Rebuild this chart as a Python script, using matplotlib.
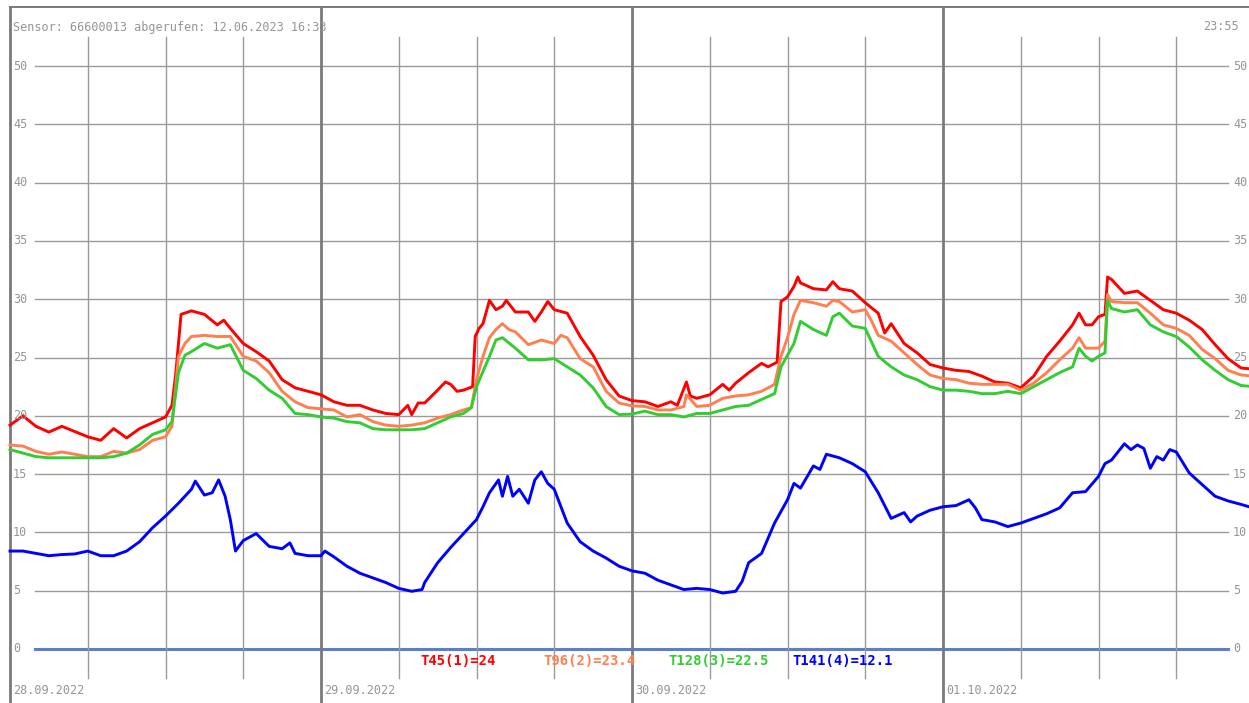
import matplotlib
matplotlib.use("Agg")
import matplotlib.pyplot as plt

# hours since 28.09.2022 00:00 and temperatures in degC
red_h = [0, 1, 2, 3, 4, 5, 6, 7, 8, 9, 10, 11, 12, 12.5, 12.8, 13.2, 14, 15, 16, 16.5, 17, 18, 19, 20, 21, 22, 23,
         24, 25, 26, 27, 28, 29, 30, 30.7, 31, 31.5, 32, 33, 33.6, 34, 34.5, 35, 35.7, 35.9, 36.2, 36.5, 37, 37.5,
         38, 38.3, 39, 40, 40.5, 41, 41.5, 42, 43, 44, 45, 46, 47,
         48, 49, 50, 51, 51.5, 52.2, 52.5, 53, 54, 55, 55.5, 56, 57, 58, 58.5, 59.2, 59.5, 60, 60.5, 60.8, 61, 62,
         63, 63.5, 64, 65, 66, 67, 67.5, 68, 69, 70, 71,
         72, 73, 74, 75, 76, 77, 78, 79, 80, 81, 82, 82.5, 83, 83.5, 84, 84.5, 84.7, 85, 86, 87, 88, 89, 90, 91,
         92, 93, 94, 95, 95.92]
red_t = [19.2, 20.0, 19.1, 18.6, 19.1, 18.65, 18.2, 17.9, 18.9, 18.1, 18.9, 19.4, 19.9, 20.9, 23.7, 28.7, 29.0,
         28.7, 27.8, 28.2, 27.5, 26.2, 25.5, 24.7, 23.1, 22.4, 22.1,
         21.8, 21.2, 20.9, 20.9, 20.5, 20.2, 20.1, 20.9, 20.1, 21.1, 21.1, 22.2, 22.9, 22.7, 22.1, 22.2, 22.5, 26.8,
         27.5, 27.9, 29.9, 29.1, 29.4, 29.9, 28.9, 28.9, 28.1, 28.9, 29.8, 29.1, 28.8, 26.8, 25.2, 23.1, 21.7,
         21.3, 21.2, 20.8, 21.2, 20.9, 22.9, 21.7, 21.5, 21.8, 22.7, 22.2, 22.8, 23.7, 24.5, 24.2, 24.6, 29.8, 30.2,
         31.1, 31.9, 31.4, 30.9, 30.8, 31.5, 30.9, 30.7, 29.7, 28.8, 27.1, 27.9, 26.2, 25.4, 24.4,
         24.1, 23.9, 23.8, 23.4, 22.9, 22.8, 22.4, 23.4, 25.1, 26.4, 27.8, 28.8, 27.8, 27.8, 28.5, 28.7, 31.9,
         31.7, 30.5, 30.7, 29.9, 29.1, 28.8, 28.2, 27.4, 26.1, 24.9, 24.1, 24.0]

coral_h = [0, 1, 2, 3, 4, 5, 6, 7, 8, 9, 10, 11, 12, 12.5, 13, 13.5, 14, 15, 16, 17, 18, 19, 20, 21, 22, 23,
           24, 25, 26, 27, 28, 29, 30, 31, 32, 33, 34, 35, 35.6, 36, 36.5, 37, 37.5, 38, 38.5, 39, 40, 41, 42,
           42.5, 43, 44, 45, 46, 47,
           48, 49, 50, 51, 52, 52.2, 53, 54, 55, 56, 57, 58, 59, 59.5, 60, 60.5, 61, 62, 63, 63.5, 64, 65, 66,
           66.5, 67, 68, 69, 70, 71,
           72, 73, 74, 75, 76, 77, 78, 79, 80, 81, 82, 82.5, 83, 84, 84.5, 84.7, 85, 86, 87, 88, 89, 90, 91, 92,
           93, 94, 95, 95.92]
coral_t = [17.5, 17.4, 16.95, 16.7, 16.9, 16.7, 16.5, 16.5, 16.95, 16.8, 17.1, 17.9, 18.2, 19.1, 25.1, 26.2,
           26.8, 26.9, 26.8, 26.8, 25.1, 24.7, 23.7, 22.1, 21.2, 20.7,
           20.6, 20.5, 19.9, 20.1, 19.5, 19.2, 19.1, 19.2, 19.4, 19.8, 20.1, 20.5, 20.7, 23.1, 25.1, 26.7, 27.4,
           27.9, 27.4, 27.2, 26.1, 26.5, 26.2, 26.9, 26.7, 24.9, 24.2, 22.1, 21.1,
           20.85, 20.8, 20.5, 20.5, 20.8, 21.8, 20.8, 20.9, 21.5, 21.7, 21.8, 22.1, 22.7, 25.1, 26.7, 28.7, 29.9,
           29.7, 29.4, 29.9, 29.8, 28.9, 29.1, 28.1, 26.9, 26.4, 25.4, 24.4, 23.5,
           23.2, 23.1, 22.8, 22.7, 22.7, 22.7, 22.2, 22.8, 23.7, 24.8, 25.8, 26.7, 25.8, 25.8, 26.4, 30.4, 29.8,
           29.7, 29.7, 28.8, 27.8, 27.5, 26.9, 25.7, 24.9, 23.9, 23.5, 23.4]

green_h = [0, 1, 2, 3, 4, 5, 6, 7, 8, 9, 10, 11, 12, 12.5, 13, 13.5, 14, 15, 16, 17, 18, 19, 20, 21, 22, 23,
           24, 25, 26, 27, 28, 29, 30, 31, 32, 33, 34, 35, 35.6, 36, 36.5, 37, 37.5, 38, 39, 40, 41, 42, 43, 44,
           45, 46, 47,
           48, 49, 50, 51, 52, 53, 54, 55, 56, 57, 58, 59, 59.5, 60, 60.5, 61, 62, 63, 63.5, 64, 65, 66, 67, 68,
           69, 70, 71,
           72, 73, 74, 75, 76, 77, 78, 79, 80, 81, 82, 82.5, 83, 83.5, 84, 84.5, 84.7, 85, 86, 87, 88, 89, 90, 91,
           92, 93, 94, 95, 95.92]
green_t = [17.1, 16.8, 16.5, 16.4, 16.4, 16.4, 16.4, 16.4, 16.5, 16.8, 17.5, 18.4, 18.8, 19.5, 23.7, 25.2, 25.5,
           26.2, 25.8, 26.1, 23.9, 23.2, 22.2, 21.5, 20.2, 20.1,
           19.9, 19.8, 19.5, 19.4, 18.9, 18.8, 18.8, 18.8, 18.9, 19.4, 19.9, 20.2, 20.7, 22.5, 23.8, 25.1, 26.5,
           26.7, 25.8, 24.8, 24.8, 24.9, 24.2, 23.5, 22.4, 20.8, 20.1,
           20.15, 20.4, 20.1, 20.1, 19.9, 20.2, 20.2, 20.5, 20.8, 20.9, 21.4, 21.9, 24.2, 25.2, 26.2, 28.1, 27.4,
           26.9, 28.5, 28.8, 27.7, 27.5, 25.1, 24.2, 23.5, 23.1, 22.5,
           22.2, 22.2, 22.1, 21.9, 21.9, 22.1, 21.9, 22.5, 23.1, 23.7, 24.2, 25.8, 25.1, 24.7, 25.1, 25.4, 29.9,
           29.2, 28.9, 29.1, 27.8, 27.2, 26.8, 25.9, 24.8, 23.9, 23.1, 22.6, 22.5]

blue_h = [0, 1, 2, 3, 4, 5, 6, 7, 8, 9, 10, 11, 12, 13, 14, 14.3, 15, 15.6, 16.1, 16.6, 17, 17.4, 18, 19, 20, 21,
          21.6, 22, 23,
          24, 24.3, 25, 26, 27, 28, 29, 30, 31, 31.8, 32, 33, 34, 35, 36, 36.5, 37, 37.7, 38, 38.4, 38.8, 39.3,
          40, 40.5, 41, 41.5, 42, 43, 44, 45, 46, 47,
          48, 49, 50, 51, 52, 53, 54, 55, 56, 56.5, 57, 58, 59, 60, 60.5, 61, 62, 62.5, 63, 64, 65, 66, 67, 68,
          69, 69.5, 70, 71,
          72, 73, 74, 74.5, 75, 76, 77, 78, 79, 80, 81, 82, 83, 84, 84.5, 85, 86, 86.5, 87, 87.5, 88, 88.5, 89,
          89.5, 90, 91, 92, 93, 94, 95, 95.92]
blue_t = [8.4, 8.4, 8.2, 8.0, 8.1, 8.15, 8.4, 8.0, 8.0, 8.4, 9.2, 10.4, 11.4, 12.5, 13.7, 14.4, 13.2, 13.4, 14.5,
          13.1, 11.1, 8.4, 9.3, 9.9, 8.8, 8.6, 9.1, 8.2, 8.0,
          8.0, 8.4, 7.9, 7.1, 6.5, 6.1, 5.7, 5.2, 4.95, 5.1, 5.7, 7.4, 8.7, 9.9, 11.1, 12.2, 13.4, 14.5, 13.1,
          14.8, 13.1, 13.7, 12.5, 14.5, 15.2, 14.2, 13.7, 10.8, 9.2, 8.4, 7.8, 7.1,
          6.7, 6.5, 5.9, 5.5, 5.1, 5.2, 5.1, 4.8, 4.95, 5.8, 7.4, 8.2, 10.8, 12.8, 14.2, 13.8, 15.7, 15.4, 16.7,
          16.4, 15.9, 15.2, 13.4, 11.2, 11.7, 10.9, 11.4, 11.9,
          12.2, 12.3, 12.8, 12.1, 11.1, 10.9, 10.5, 10.8, 11.2, 11.6, 12.1, 13.4, 13.5, 14.8, 15.9, 16.2, 17.6,
          17.1, 17.5, 17.2, 15.5, 16.5, 16.2, 17.1, 16.9, 15.1, 14.1, 13.1, 12.7, 12.4, 12.1]

labels = ["T45(1)=24", "T96(2)=23.4", "T128(3)=22.5", "T141(4)=12.1"]
colors = ["#ff0000", "#ff7f50", "#33cc33", "#0000ff"]
days = ["28.09.2022", "29.09.2022", "30.09.2022", "01.10.2022"]
yticks = list(range(0, 55, 5))

W, H = 1249, 703
PX_H = 311 / 24.0   # pixels per hour
PX_V = 11.66        # pixels per degree


def hx(px):
    return (px - 10) / PX_H


def vy(py):
    return (649 - py) / PX_V


fig = plt.figure(figsize=(W / 100, H / 100), dpi=100)
ax = fig.add_axes([0, 0, 1, 1])
ax.set_xlim(hx(0), hx(W))
ax.set_ylim(vy(H), vy(0))
ax.axis("off")

grid = "#9a9a9a"
txt = "#959595"
mono = "DejaVu Sans Mono"

# horizontal grid
for v in yticks[1:]:
    ax.plot([hx(35), hx(1228)], [v, v], color=grid, lw=1.0, zorder=1)
ax.plot([hx(35), hx(1228)], [0, 0], color="#5a7fcc", lw=2.2, zorder=1)

# 6 hour lines and day lines
for h in range(6, 96, 6):
    if h % 24:
        ax.plot([h, h], [vy(678), vy(37)], color=grid, lw=1.0, zorder=1)
for h in (0, 24, 48, 72):
    ax.plot([h, h], [vy(H + 5), vy(7)], color="#7a7a7a", lw=2.0, zorder=1)
ax.plot([hx(10), hx(W + 5)], [vy(7), vy(7)], color="#7a7a7a", lw=1.4, zorder=1)

# series
for hh, tt, c in [(red_h, red_t, colors[0]), (coral_h, coral_t, colors[1]),
                  (green_h, green_t, colors[2]), (blue_h, blue_t, colors[3])]:
    ax.plot(hh, tt, color=c, lw=2.1, zorder=3)

# labels
for v in yticks:
    ax.text(hx(13), v, str(v), color=txt, family=mono, fontsize=8.5, ha="left", va="center")
    ax.text(hx(1233), v, str(v), color=txt, family=mono, fontsize=8.5, ha="left", va="center")

ax.text(hx(13), vy(27), "Sensor: 66600013 abgerufen: 12.06.2023 16:33", color=txt, family=mono,
        fontsize=8.5, ha="left", va="center")
ax.text(hx(1239), vy(27), "23:55", color=txt, family=mono, fontsize=8.5, ha="right", va="center")

for i, d in enumerate(days):
    ax.text(i * 24 + hx(13), vy(690), d, color=txt, family=mono, fontsize=8.5, ha="left", va="center")

for x0, lab, c in zip([420, 543, 668, 792], labels, colors):
    ax.text(hx(x0), vy(661), lab, color=c, family=mono, fontweight="bold", fontsize=10,
            ha="left", va="center", zorder=4)

fig.savefig("out.png", dpi=100, facecolor="white")
